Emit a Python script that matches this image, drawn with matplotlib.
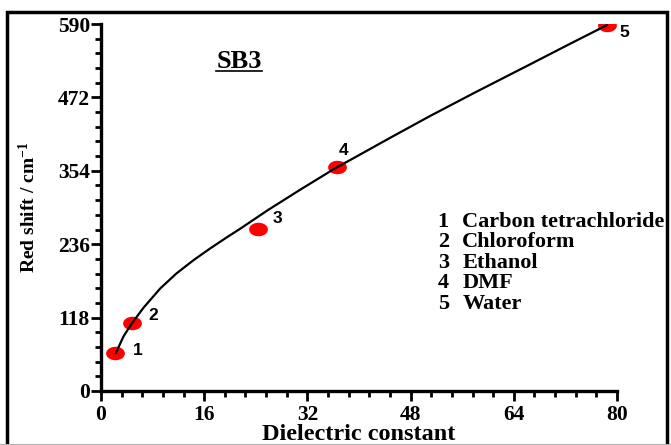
import matplotlib
matplotlib.use("Agg")
import matplotlib.pyplot as plt
from matplotlib.path import Path
from matplotlib.lines import Line2D
from matplotlib.patches import Rectangle
import numpy as np

plt.rcParams['font.family'] = 'Liberation Serif'
plt.rcParams['font.weight'] = 'bold'
plt.rcParams['mathtext.fontset'] = 'custom'
plt.rcParams['mathtext.rm'] = 'Liberation Serif:bold'
plt.rcParams['mathtext.bf'] = 'Liberation Serif:bold'
plt.rcParams['mathtext.it'] = 'Liberation Serif:bold'

# measured points
eps = [2.2, 4.8, 24.3, 36.6, 78.4]
shift = [61, 110, 260, 360, 588]
point_labels = ["1", "2", "3", "4", "5"]
label_offsets = [(23, 3), (21, 7), (20, 11), (6, 17), (18, -7)]  # pixels

# fitted curve
curve_x = [2.3, 3.5, 4.8, 6.6, 9.2, 11.7, 14.3, 16.9, 19.5, 21.6, 25.9, 31.1,
           36.3, 39.1, 45.0, 51.0, 58.0, 66.5, 72.5, 78.4]
curve_y = [61, 88, 109, 134, 165, 189, 210, 229, 247, 261, 291, 325,
           358, 374, 408, 442, 480, 525, 557, 588]

solvents = ["Carbon tetrachloride", "Chloroform", "Ethanol", "DMF", "Water"]

xticks = [0, 16, 32, 48, 64, 80]
yticks = [0, 118, 236, 354, 472, 590]

fig = plt.figure(figsize=(6.71, 4.45), dpi=100)
W, H = 671, 445
ax = fig.add_axes([101 / W, 1 - 391 / H, 516 / W, 367 / H])

ax.plot(curve_x, curve_y, color='black', lw=1.6, zorder=2, solid_joinstyle='round')

# elliptical markers, wider than tall
t = np.linspace(0, 2 * np.pi, 60)
ell = Path(np.column_stack([np.cos(t), 0.72 * np.sin(t)]), closed=True)
ax.scatter(eps, shift, marker=ell, s=13.5 ** 2, color='#ff0000', lw=0, zorder=1)

for x, y, lab, (dx, dy) in zip(eps, shift, point_labels, label_offsets):
    ax.annotate(lab, (x, y), xytext=(dx * 0.72, dy * 0.72), textcoords='offset points',
                ha='center', va='center', fontsize=12.5, fontweight='bold',
                family='Liberation Sans')

ax.set_xlim(0, 80)
ax.set_ylim(0, 590)
ax.set_xticks(xticks)
ax.set_yticks(yticks)
ax.set_xticks(np.arange(0, 80.1, 3.2), minor=True)
ax.set_yticks(np.arange(0, 590.1, 23.6), minor=True)
ax.tick_params(which='major', length=7, width=2, labelsize=15.5, pad=3)
ax.tick_params(which='minor', length=4, width=2)
ax.tick_params(axis='y', pad=1)
for lab in ax.get_xticklabels() + ax.get_yticklabels():
    lab.set_fontweight('bold')

ax.spines['top'].set_visible(False)
ax.spines['right'].set_visible(False)
ax.spines['left'].set_linewidth(2.4)
ax.spines['bottom'].set_linewidth(2.4)

ax.set_xlabel("Dielectric constant", fontsize=17.5, fontweight='bold', labelpad=-1)
ax.set_ylabel(r"Red shift / cm$^{\mathbf{-1}}$", fontsize=14, fontweight='bold', labelpad=13)

title = ax.text(21.4, 530, "SB3", fontsize=19, fontweight='bold', ha='center', va='center')

for i, name in enumerate(solvents):
    yy = 272 - i * 33
    ax.text(52.2, yy, str(i + 1), fontsize=16, fontweight='bold', va='center', clip_on=False)
    ax.text(56.0, yy, name, fontsize=16, fontweight='bold', va='center', clip_on=False)

# underline the title
fig.canvas.draw()
bb = title.get_window_extent()
fig.add_artist(Line2D([bb.x0 / W, bb.x1 / W], [(bb.y0 + 2) / H, (bb.y0 + 2) / H],
                      color='black', lw=1.2))

# outer frame
fig.add_artist(Rectangle((7 / W, -0.01), 660 / W, 1 - 12 / H + 0.01, fill=False,
                         edgecolor='black', lw=2.5, transform=fig.transFigure))
fig.add_artist(Line2D([0, 1], [0.5 / H, 0.5 / H], color='#b0b0b0', lw=1.5))

fig.savefig("out.png", dpi=100)
